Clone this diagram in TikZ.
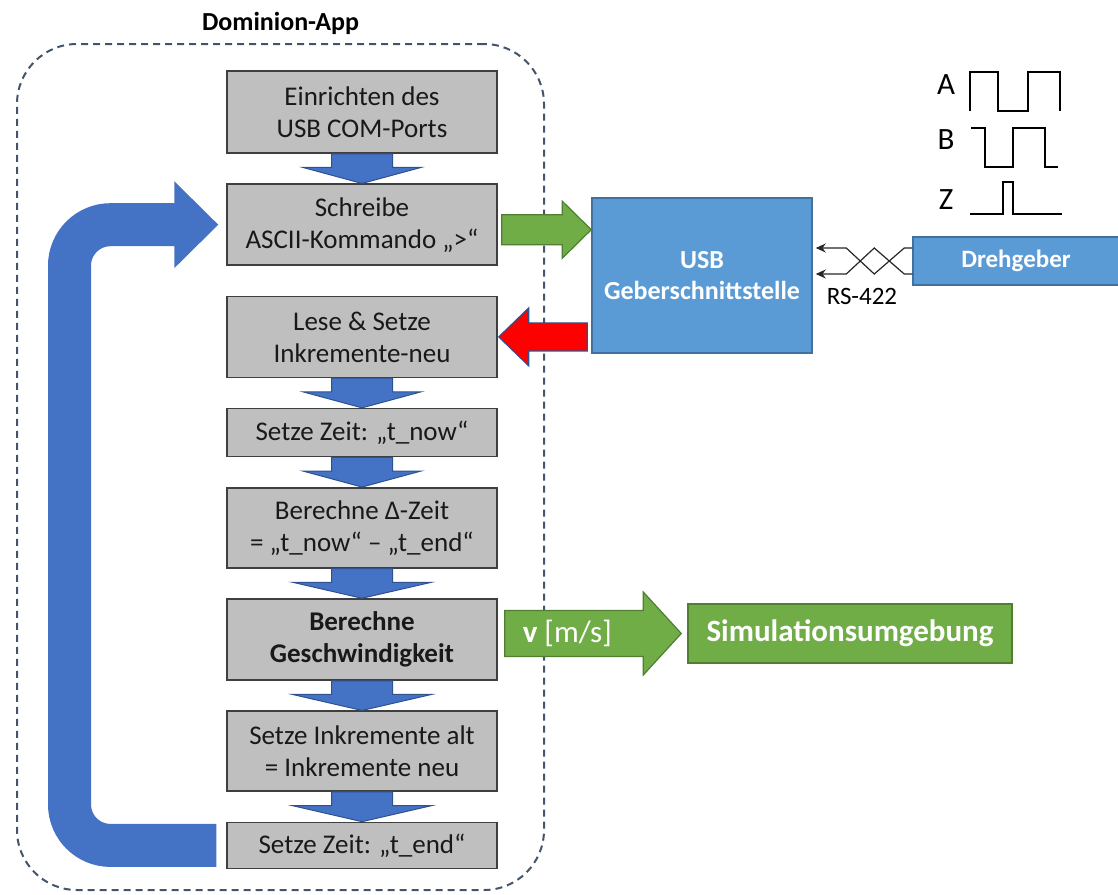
\documentclass[tikz,border=0pt]{standalone}
\usepackage{fontspec}
\setmainfont{Carlito}
\usepackage{xcolor}
\usepackage{tikz}
\usetikzlibrary{positioning, calc, fit, arrows.meta, backgrounds}

\definecolor{boxgray}{HTML}{BFBFBF}
\definecolor{boxline}{HTML}{3F3F3F}
\definecolor{flowblue}{HTML}{4472C4}
\definecolor{flowline}{HTML}{2F528F}
\definecolor{usbblue}{HTML}{5B9BD5}
\definecolor{usbline}{HTML}{41719C}
\definecolor{simgreen}{HTML}{70AD47}
\definecolor{simline}{HTML}{507E32}
\definecolor{readred}{HTML}{FF0000}
\definecolor{frameline}{HTML}{44546A}

% block arrows: style, tail, tip, half shaft, half head, head length
\newcommand{\varrow}[6]{%
  \filldraw[#1] let \p1=(#2), \p2=(#3), \p3=($(#3)!#6!(#2)$) in
    (\x2+#4,\y1) -- (\x2+#4,\y3) -- (\x2+#5,\y3) -- (\x2,\y2)
    -- (\x2-#5,\y3) -- (\x2-#4,\y3) -- (\x2-#4,\y1) -- cycle;}
\newcommand{\harrow}[6]{%
  \filldraw[#1] let \p1=(#2), \p2=(#3), \p3=($(#3)!#6!(#2)$) in
    (\x1,\y2+#4) -- (\x3,\y2+#4) -- (\x3,\y2+#5) -- (\x2,\y2)
    -- (\x3,\y2-#5) -- (\x3,\y2-#4) -- (\x1,\y2-#4) -- cycle;}

\begin{document}
\begin{tikzpicture}[
        % one unit = one pixel of the layout
        x=0.5pt, y=-0.5pt,
        node distance=14.85pt,
        % Define styles
        stepbox/.style={rectangle, draw=boxline, line width=0.75pt, fill=boxgray, text=black!90, minimum width=135pt, align=center, font=\fontsize{13.5}{16}\selectfont},
        ifacebox/.style={rectangle, draw=usbline, line width=0.75pt, fill=usbblue, text=white, align=center, font=\bfseries\fontsize{13}{15.5}\selectfont},
        simbox/.style={rectangle, draw=simline, line width=0.75pt, fill=simgreen, text=white, font=\bfseries\fontsize{15.5}{18}\selectfont},
        flowarrow/.style={fill=flowblue, draw=flowline, line width=0.5pt},
        loopband/.style={draw=flowblue, line width=21.5pt, rounded corners=20.5pt},
        loophead/.style={fill=flowblue, draw=none},
        sendarrow/.style={fill=simgreen, draw=simline, line width=0.6pt},
        readarrow/.style={fill=readred, draw=flowline, line width=0.6pt},
        wire/.style={draw=black!85, line width=0.6pt, -{Stealth[length=5pt, width=4.5pt]}},
        signal/.style={draw=black, line width=1pt},
        siglabel/.style={font=\fontsize{15.5}{18}\selectfont},
        appframe/.style={draw=frameline, line width=1pt, dash pattern=on 3.5pt off 2.5pt, rounded corners=30pt}
    ]

        \useasboundingbox (0,0) rectangle (1118,894);

        % --- Program steps ---
        \node (b1) [stepbox, minimum height=41pt] at (362,112) {Einrichten des\\USB COM-Ports};
        \node (b2) [stepbox, minimum height=40.5pt, below=of b1] {Schreibe\\ASCII-Kommando „>“};
        \node (b3) [stepbox, minimum height=40.5pt, below=of b2] {Lese \& Setze\\Inkremente-neu};
        \node (b4) [stepbox, minimum height=24pt, below=of b3] {Setze Zeit: „t\_now“};
        \node (b5) [stepbox, minimum height=40pt, below=of b4] {Berechne Δ-Zeit\\= „t\_now“ – „t\_end“};
        \node (b6) [stepbox, minimum height=40.5pt, below=of b5] {\textbf{Berechne}\\\textbf{Geschwindigkeit}};
        \node (b7) [stepbox, minimum height=40pt, below=of b6] {Setze Inkremente alt\\= Inkremente neu};
        \node (b8) [stepbox, minimum height=23pt, below=of b7] {Setze Zeit: „t\_end“};

        % --- Interface, encoder, simulation ---
        \node (usb) [ifacebox, minimum width=110pt, minimum height=77.5pt] at (702,275.5) {USB\\Geberschnittstelle};
        \node (dreh) [ifacebox, minimum width=103pt, minimum height=24pt, font=\bfseries\fontsize{12.5}{15}\selectfont] at (1016,261) {Drehgeber};
        \node (sim) [simbox, minimum width=162pt, minimum height=29.5pt] at (850,633.5) {Simulationsumgebung};

        % Step connections
        \foreach \from/\to/\head in {b1/b2/29.5pt, b3/b4/29.5pt, b4/b5/29.5pt, b5/b6/34.75pt, b6/b7/34.75pt, b7/b8/34.75pt}
            {\varrow{flowarrow}{\from.south}{\to.north}{15.25pt}{\head}{8pt}}

        % Loop back to the write command
        \coordinate (loopcol) at (69.5,0);
        \draw[loopband] ([xshift=-5pt]b8.west) -- (b8.west -| loopcol) -- (b2.west -| loopcol) -- ([xshift=-25.5pt]b2.west);
        \harrow{loophead}{[xshift=-26pt]b2.west}{[xshift=-4pt]b2.west}{10.75pt}{21.75pt}{22pt}

        % --- Data exchange ---
        \harrow{sendarrow}{[xshift=2pt]b2.east}{[yshift=-2.5pt]usb.west |- b2.east}{7.5pt}{14.25pt}{14.5pt}
        \harrow{readarrow}{[xshift=-2pt]usb.west |- b3.east}{[xshift=0.5pt]b3.east}{7pt}{14.5pt}{15pt}
        \harrow{sendarrow}{[xshift=3.5pt]b6.east}{[xshift=-3pt]sim.west}{11.5pt}{20.75pt}{19pt}
        \node (speed) [font=\fontsize{15.5}{18}\selectfont, text=white, anchor=west] at ([xshift=9pt]b6.east |- sim.west) {\textbf{v} [m/s]};

        % RS-422 twisted pair
        \coordinate (wireup) at ([yshift=6.5pt]dreh.west);
        \coordinate (wirelo) at ([yshift=-6.5pt]dreh.west);
        \draw[wire] (wireup) -- ++(-4pt,0) -- ++(-15pt,-13pt) -- ++(-14pt,13pt) -- ([xshift=1.5pt]usb.east |- wireup);
        \draw[wire] (wirelo) -- ++(-4pt,0) -- ++(-15pt,13pt) -- ++(-14pt,-13pt) -- ([xshift=1.5pt]usb.east |- wirelo);
        \node (rslabel) [font=\fontsize{12.5}{15}\selectfont] at (862,296) {RS-422};

        % Encoder signals
        \node (sigA) [siglabel] at (946,85) {A};
        \node (sigB) [siglabel] at (946,140) {B};
        \node (sigZ) [siglabel] at (946,200) {Z};
        \draw[signal] (970,111) -- (970,72) -- (998,72) -- (998,111) -- (1028,111) -- (1028,72) -- (1060,72) -- (1060,111);
        \draw[signal] (971,128) -- (985,128) -- (985,167) -- (1013,167) -- (1013,128) -- (1045,128) -- (1045,167) -- (1058,167);
        \draw[signal] (970,214) -- (1003,214) -- (1003,182) -- (1013,182) -- (1013,214) -- (1062,214);

        % --- Bounding frame ---
        \begin{scope}[on background layer]
            \node (appbox) [appframe, inner sep=0pt, fit={(17,44) (544,890)}] {};
        \end{scope}
        \node (apptitle) [font=\bfseries\fontsize{13}{15}\selectfont, anchor=base, yshift=6pt] at (appbox.north) {Dominion-App};

    \end{tikzpicture}
\end{document}
